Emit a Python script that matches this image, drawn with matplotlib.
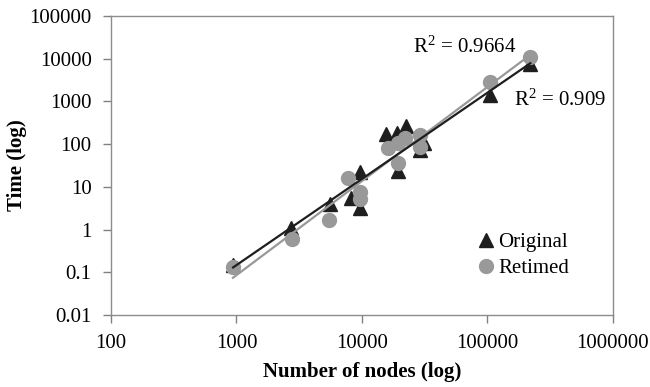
import numpy as np
import matplotlib
matplotlib.use('Agg')
from matplotlib import pyplot as plt

plt.rcParams['font.family'] = ['Liberation Serif', 'DejaVu Serif']
plt.rcParams['mathtext.fontset'] = 'custom'
plt.rcParams['mathtext.rm'] = 'Liberation Serif'
plt.rcParams['mathtext.it'] = 'Liberation Serif:italic'

# Original runs (triangles)
orig_nodes = [940, 2720, 5560, 8200, 9700, 9700, 15700, 19000, 22400, 19400, 29000, 31000, 105000, 220000]
orig_time = [0.15, 1.1, 4.0, 5.5, 22, 3.2, 175, 180, 260, 23, 72, 105, 1400, 7500]

# Retimed runs (circles)
ret_nodes = [938, 2770, 5460, 7700, 9700, 9700, 16100, 19400, 22000, 19400, 29000, 29000, 105000, 218000]
ret_time = [0.13, 0.6, 1.7, 16, 7.6, 5.2, 81, 106, 139, 37, 163, 88, 2840, 11000]

r2_orig = "R$^{2}$ = 0.909"
r2_ret = "R$^{2}$ = 0.9664"

xticks = [100, 1000, 10000, 100000, 1000000]
yticks = [0.01, 0.1, 1, 10, 100, 1000, 10000, 100000]


def power_fit(x, y):
    # Excel-style power trendline: fit in log-log space
    lx, ly = np.log10(x), np.log10(y)
    b, a = np.polyfit(lx, ly, 1)
    xs = np.array([min(x), max(x)])
    return xs, 10 ** (a + b * np.log10(xs))


fig = plt.figure(figsize=(6.5, 3.87), dpi=100)
ax = fig.add_axes([0.1708, 0.186, 0.772, 0.7727])

ax.plot(orig_nodes, orig_time, linestyle='none', marker='^', markersize=10.5,
        color='#1e1e1e', label='Original', zorder=3)
ax.plot(ret_nodes, ret_time, linestyle='none', marker='o', markersize=10,
        color='#999999', label='Retimed', zorder=4)

fx, fy = power_fit(ret_nodes, ret_time)
ax.plot(fx, fy, color='#999999', lw=1.6, zorder=5)
fx, fy = power_fit(orig_nodes, orig_time)
ax.plot(fx, fy, color='#1e1e1e', lw=1.6, zorder=6)

ax.set_xscale('log')
ax.set_yscale('log')
ax.set_xlim(100, 1000000)
ax.set_ylim(0.01, 100000)
ax.set_xticks(xticks)
ax.set_xticklabels([str(t) for t in xticks])
ax.set_yticks(yticks)
ax.set_yticklabels(['0.01', '0.1', '1', '10', '100', '1000', '10000', '100000'])
ax.minorticks_off()
ax.tick_params(axis='both', colors='#808080', labelcolor='black', labelsize=15,
               length=6, width=1)
ax.tick_params(axis='x', pad=8)
ax.tick_params(axis='y', pad=8)
for s in ax.spines.values():
    s.set_color('#8c8c8c')
    s.set_linewidth(1)

ax.set_xlabel('Number of nodes (log)', fontsize=15, fontweight='bold', labelpad=6)
ax.set_ylabel('Time (log)', fontsize=15, fontweight='bold', labelpad=2)

fig.text(465 / 650, 1 - 47 / 387, r2_ret, fontsize=15, ha='center', va='center')
fig.text(560 / 650, 1 - 100 / 387, r2_orig, fontsize=15, ha='center', va='center')

leg = ax.legend(loc='upper left', bbox_to_anchor=(465 / 650, 1 - 222 / 387),
                bbox_transform=fig.transFigure, frameon=False, fontsize=15,
                handletextpad=0.1, handlelength=1.0, borderpad=0, labelspacing=0.3)

fig.savefig('out.png', dpi=100)
